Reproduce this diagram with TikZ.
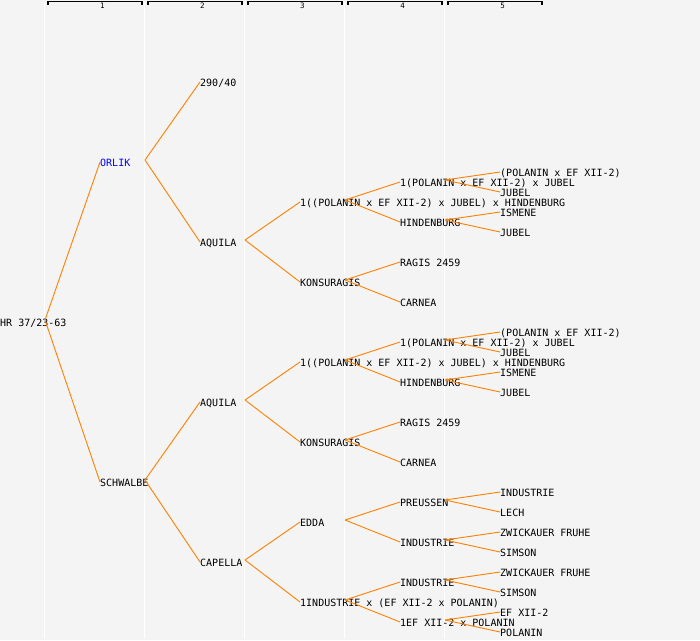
\documentclass[tikz,border=0pt]{standalone}
\usepackage{fontspec}
\newfontfamily\pedfont{DejaVu Sans Mono}
\definecolor{paper}{RGB}{244,244,244}
\definecolor{wire}{RGB}{255,128,0}

\begin{document}
\begin{tikzpicture}[x=1pt,y=-1pt,
  entry/.style={anchor=west,inner sep=0pt,text height=8pt,text depth=0pt,
    font=\fontsize{10}{12}\selectfont\pedfont},
  colnum/.style={inner sep=0pt,font=\fontsize{7.5}{9}\selectfont\pedfont},
  link/.style={color=wire,line width=0.9pt},
  fork/.style={xshift=45pt,yshift=2pt},
  rule/.style={draw=white,line width=1.1pt},
  bracket/.style={draw=black,line width=1.2pt}]
  \path[use as bounding box,fill=paper] (0,0) rectangle (700,640);

  % column rules and headers
  \draw[rule] (44.5,2) -- (44.5,638);
  \draw[rule] (144.5,2) -- (144.5,638);
  \draw[rule] (244.5,2) -- (244.5,638);
  \draw[rule] (344.5,2) -- (344.5,638);
  \draw[rule] (444.5,2) -- (444.5,638);
  \draw[bracket] (48,4.8) |- (142,1.8) -- (142,4.8);
  \draw[bracket] (148,4.8) |- (242,1.8) -- (242,4.8);
  \draw[bracket] (248,4.8) |- (342,1.8) -- (342,4.8);
  \draw[bracket] (348,4.8) |- (442,1.8) -- (442,4.8);
  \draw[bracket] (448,4.8) |- (542,1.8) -- (542,4.8);
  \node[colnum] (c1) at (102.5,6) {1};
  \node[colnum] (c2) at (202.5,6) {2};
  \node[colnum] (c3) at (302.5,6) {3};
  \node[colnum] (c4) at (402.5,6) {4};
  \node[colnum] (c5) at (502.5,6) {5};

  % generations
  \node[entry]            (p)     at (0,322)   {HR 37/23-63};
  \node[entry,text=blue]  (p1)    at (100,162) {ORLIK};
  \node[entry]            (p2)    at (100,482) {SCHWALBE};
  \node[entry]            (p11)   at (200,82)  {290/40};
  \node[entry]            (p12)   at (200,242) {AQUILA};
  \node[entry]            (p21)   at (200,402) {AQUILA};
  \node[entry]            (p22)   at (200,562) {CAPELLA};
  \node[entry]            (p121)  at (300,202) {1((POLANIN x EF XII-2) x JUBEL) x HINDENBURG};
  \node[entry]            (p122)  at (300,282) {KONSURAGIS};
  \node[entry]            (p211)  at (300,362) {1((POLANIN x EF XII-2) x JUBEL) x HINDENBURG};
  \node[entry]            (p212)  at (300,442) {KONSURAGIS};
  \node[entry]            (p221)  at (300,522) {EDDA};
  \node[entry]            (p222)  at (300,602) {1INDUSTRIE x (EF XII-2 x POLANIN)};
  \node[entry]            (p1211) at (400,182) {1(POLANIN x EF XII-2) x JUBEL};
  \node[entry]            (p1212) at (400,222) {HINDENBURG};
  \node[entry]            (p1221) at (400,262) {RAGIS 2459};
  \node[entry]            (p1222) at (400,302) {CARNEA};
  \node[entry]            (p2111) at (400,342) {1(POLANIN x EF XII-2) x JUBEL};
  \node[entry]            (p2112) at (400,382) {HINDENBURG};
  \node[entry]            (p2121) at (400,422) {RAGIS 2459};
  \node[entry]            (p2122) at (400,462) {CARNEA};
  \node[entry]            (p2211) at (400,502) {PREUSSEN};
  \node[entry]            (p2212) at (400,542) {INDUSTRIE};
  \node[entry]            (p2221) at (400,582) {INDUSTRIE};
  \node[entry]            (p2222) at (400,622) {1EF XII-2 x POLANIN};
  \node[entry]            (p12111) at (500,172) {(POLANIN x EF XII-2)};
  \node[entry]            (p12112) at (500,192) {JUBEL};
  \node[entry]            (p12121) at (500,212) {ISMENE};
  \node[entry]            (p12122) at (500,232) {JUBEL};
  \node[entry]            (p21111) at (500,332) {(POLANIN x EF XII-2)};
  \node[entry]            (p21112) at (500,352) {JUBEL};
  \node[entry]            (p21121) at (500,372) {ISMENE};
  \node[entry]            (p21122) at (500,392) {JUBEL};
  \node[entry]            (p22111) at (500,492) {INDUSTRIE};
  \node[entry]            (p22112) at (500,512) {LECH};
  \node[entry]            (p22121) at (500,532) {ZWICKAUER FRUHE};
  \node[entry]            (p22122) at (500,552) {SIMSON};
  \node[entry]            (p22211) at (500,572) {ZWICKAUER FRUHE};
  \node[entry]            (p22212) at (500,592) {SIMSON};
  \node[entry]            (p22221) at (500,612) {EF XII-2};
  \node[entry]            (p22222) at (500,632) {POLANIN};

  % parent lines
  \path[link] ([fork]p.west)     edge (p1.west)     edge (p2.west)
              ([fork]p1.west)    edge (p11.west)    edge (p12.west)
              ([fork]p2.west)    edge (p21.west)    edge (p22.west)
              ([fork]p12.west)   edge (p121.west)   edge (p122.west)
              ([fork]p21.west)   edge (p211.west)   edge (p212.west)
              ([fork]p22.west)   edge (p221.west)   edge (p222.west)
              ([fork]p121.west)  edge (p1211.west)  edge (p1212.west)
              ([fork]p122.west)  edge (p1221.west)  edge (p1222.west)
              ([fork]p211.west)  edge (p2111.west)  edge (p2112.west)
              ([fork]p212.west)  edge (p2121.west)  edge (p2122.west)
              ([fork]p221.west)  edge (p2211.west)  edge (p2212.west)
              ([fork]p222.west)  edge (p2221.west)  edge (p2222.west)
              ([fork]p1211.west) edge (p12111.west) edge (p12112.west)
              ([fork]p1212.west) edge (p12121.west) edge (p12122.west)
              ([fork]p2111.west) edge (p21111.west) edge (p21112.west)
              ([fork]p2112.west) edge (p21121.west) edge (p21122.west)
              ([fork]p2211.west) edge (p22111.west) edge (p22112.west)
              ([fork]p2212.west) edge (p22121.west) edge (p22122.west)
              ([fork]p2221.west) edge (p22211.west) edge (p22212.west)
              ([fork]p2222.west) edge (p22221.west) edge (p22222.west);
\end{tikzpicture}
\end{document}
